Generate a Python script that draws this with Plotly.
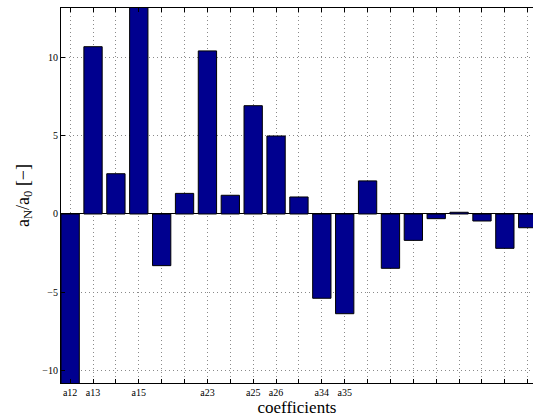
import plotly.graph_objects as go

positions = list(range(1, 22))
values = [-11.5, 10.72, 2.58, 14.0, -3.31, 1.32, 10.45, 1.2, 6.94, 5.0, 1.09,
          -5.4, -6.39, 2.12, -3.48, -1.69, -0.3, 0.11, -0.45, -2.2, -0.88]
label_positions = [1, 2, 4, 7, 9, 10, 12, 13]
tick_labels = ["a12", "a13", "a15", "a23", "a25", "a26", "a34", "a35"]
y_ticks = [-10, -5, 0, 5, 10]
y_tick_text = ["\u221210", "\u22125", "0", "5", "10"]

serif = "Liberation Serif, Times New Roman, serif"
grid_dash = "1px,3px"
grid_col = "#8a8a8a"

fig = go.Figure(go.Bar(
    x=positions, y=values, width=0.8,
    marker=dict(color="#00008F", line=dict(color="black", width=1)),
))

fig.update_layout(
    width=533, height=418,
    margin=dict(l=61, r=0, t=8, b=35),
    plot_bgcolor="white", paper_bgcolor="white",
    showlegend=False,
    font=dict(family=serif, color="black"),
)
fig.update_xaxes(
    range=[0.6, 21.23], tickvals=label_positions, ticktext=tick_labels,
    ticks="inside", ticklen=4, tickcolor="black", tickwidth=1,
    showline=True, linecolor="black", linewidth=1, mirror="ticks",
    showgrid=True, gridcolor=grid_col, griddash=grid_dash, gridwidth=1,
    minor=dict(tickvals=positions, ticks="inside", ticklen=4, tickcolor="black",
               showgrid=True, gridcolor=grid_col, griddash=grid_dash, gridwidth=1),
    tickfont=dict(size=10, family=serif),
    title=dict(text="coefficients", font=dict(size=17, family=serif), standoff=2),
    zeroline=False,
)
fig.update_yaxes(
    range=[-10.83, 13.2], tickvals=y_ticks, ticktext=y_tick_text,
    ticks="inside", ticklen=4, tickcolor="black", tickwidth=1,
    showline=True, linecolor="black", linewidth=1,
    showgrid=True, gridcolor=grid_col, griddash=grid_dash, gridwidth=1,
    tickfont=dict(size=10, family=serif),
    title=dict(text="a<sub>N</sub>/a<sub>0</sub> [\u2212]", font=dict(size=18, family=serif), standoff=8),
    zeroline=True, zerolinecolor="black", zerolinewidth=1,
)

fig.write_html("out.html", config={"displayModeBar": False},
               post_script="document.body.style.margin='0';")
